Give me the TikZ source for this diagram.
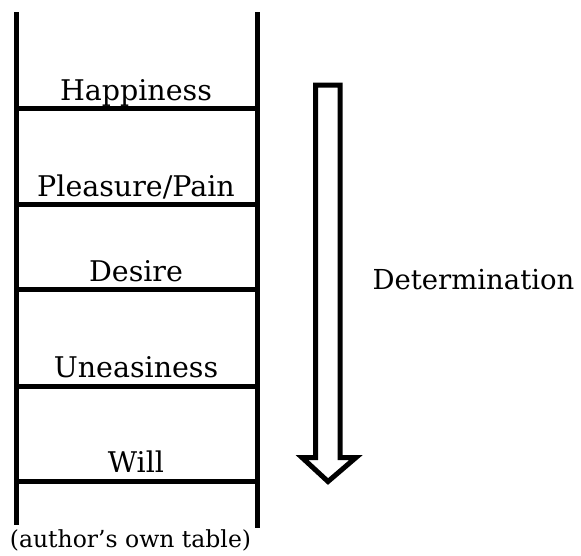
\documentclass[tikz,border=0pt]{standalone}
\usepackage{fontspec}
\setmainfont{DejaVu Serif}
\usetikzlibrary{positioning}

\begin{document}
\begin{tikzpicture}[x=1pt,y=-1pt,line width=5pt,
    rung/.style={line width=5pt},
    lbl/.style={font=\fontsize{28.5}{34}\selectfont,inner sep=0pt,anchor=base}]
  \useasboundingbox (0,0) rectangle (581,555);
  % rails of the ladder
  \draw (16,12) -- (16,525);
  \draw (257,12) -- (257,528);
  \foreach \y in {108,204,289,386,481}
    \draw[rung] (16,\y) -- (257,\y);
  % steps
  \node[lbl] (hap) at (136,100) {Happiness};
  \node[lbl] (pleas) at (136,196) {Pleasure/Pain};
  \node[lbl] (des) at (136,281) {Desire};
  \node[lbl] (uneas) at (136,377) {Uneasiness};
  \node[lbl] (will) at (136,472) {Will};
  \node[lbl,font=\fontsize{23.5}{28}\selectfont] (src) at (130.5,547) {(author’s own table)};
  % hollow arrow
  \draw[line join=miter] (315.5,85) -- (340,85) -- (340,457.5) -- (356,457.5)
    -- (328,481.5) -- (302,457.5) -- (315.5,457.5) -- cycle;
  \node[lbl,anchor=base west,font=\fontsize{27.5}{33}\selectfont] (det) at (370,289) {Determination};
\end{tikzpicture}
\end{document}
